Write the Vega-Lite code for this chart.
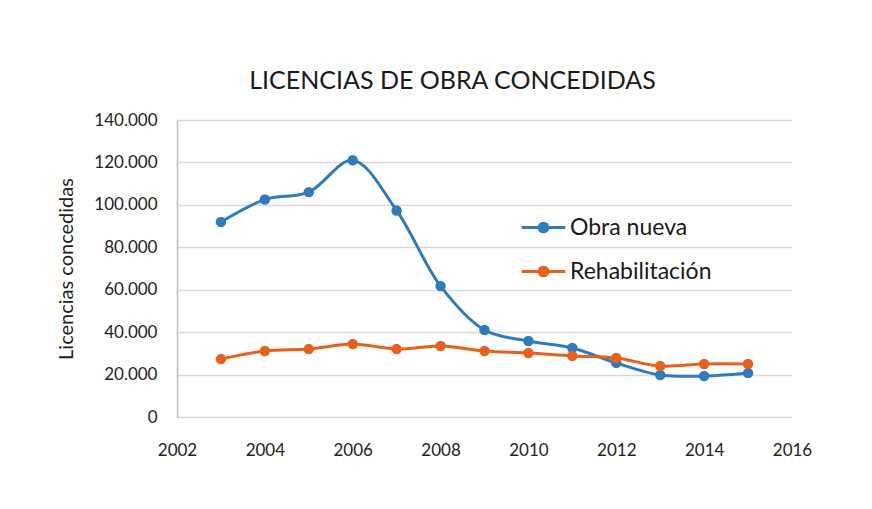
{
  "$schema": "https://vega.github.io/schema/vega-lite/v6.json",
  "autosize": "none",
  "width": 615,
  "height": 297,
  "padding": {"left": 177, "top": 120, "right": 80, "bottom": 92},
  "background": "white",
  "config": {
    "locale": {"number": {"decimal": ",", "thousands": ".", "grouping": [3], "currency": ["", " €"]}},
    "font": "Lato",
    "view": {"stroke": null},
    "axis": {"labelColor": "#222222", "titleColor": "#222222", "labelFont": "Lato", "titleFont": "Lato", "gridColor": "#d9d9d9", "gridWidth": 1.5, "domainColor": "#bfbfbf", "domainWidth": 1.5, "ticks": false}
  },
  "title": {"text": "LICENCIAS DE OBRA CONCEDIDAS", "fontSize": 25, "fontWeight": "normal", "color": "#1a1a1a", "offset": 17, "dx": -32, "font": "Lato"},
  "data": {"values": [
    {"year": 2003, "serie": "Obra nueva", "value": 91900},
    {"year": 2004, "serie": "Obra nueva", "value": 102500},
    {"year": 2005, "serie": "Obra nueva", "value": 106000},
    {"year": 2006, "serie": "Obra nueva", "value": 121000},
    {"year": 2007, "serie": "Obra nueva", "value": 97300},
    {"year": 2008, "serie": "Obra nueva", "value": 61700},
    {"year": 2009, "serie": "Obra nueva", "value": 41000},
    {"year": 2010, "serie": "Obra nueva", "value": 35800},
    {"year": 2011, "serie": "Obra nueva", "value": 32500},
    {"year": 2012, "serie": "Obra nueva", "value": 25500},
    {"year": 2013, "serie": "Obra nueva", "value": 19800},
    {"year": 2014, "serie": "Obra nueva", "value": 19300},
    {"year": 2015, "serie": "Obra nueva", "value": 20700},
    {"year": 2003, "serie": "Rehabilitación", "value": 27300},
    {"year": 2004, "serie": "Rehabilitación", "value": 31100},
    {"year": 2005, "serie": "Rehabilitación", "value": 32000},
    {"year": 2006, "serie": "Rehabilitación", "value": 34400},
    {"year": 2007, "serie": "Rehabilitación", "value": 32000},
    {"year": 2008, "serie": "Rehabilitación", "value": 33500},
    {"year": 2009, "serie": "Rehabilitación", "value": 31100},
    {"year": 2010, "serie": "Rehabilitación", "value": 30200},
    {"year": 2011, "serie": "Rehabilitación", "value": 28800},
    {"year": 2012, "serie": "Rehabilitación", "value": 27800},
    {"year": 2013, "serie": "Rehabilitación", "value": 24000},
    {"year": 2014, "serie": "Rehabilitación", "value": 25000},
    {"year": 2015, "serie": "Rehabilitación", "value": 25000}
  ]},
  "encoding": {
    "x": {"field": "year", "type": "quantitative", "scale": {"domain": [2002, 2016], "nice": false, "zero": false},
      "axis": {"title": null, "values": [2002, 2004, 2006, 2008, 2010, 2012, 2014, 2016], "format": "d", "grid": false, "labelFontSize": 17, "labelPadding": 25, "labelFlush": false, "labelOverlap": false, "domain": false}},
    "y": {"field": "value", "type": "quantitative", "scale": {"domain": [0, 140000], "nice": false},
      "axis": {"title": "Licencias concedidas", "titleFontSize": 20, "titleFontWeight": "normal", "titlePadding": 17, "values": [0, 20000, 40000, 60000, 80000, 100000, 120000, 140000], "format": ",.0f", "labelFontSize": 17, "labelPadding": 20, "labelOverlap": false}},
    "color": {"field": "serie", "type": "nominal", "scale": {"domain": ["Obra nueva", "Rehabilitación"], "range": ["#2e7bbf", "#e8611c"]},
      "legend": {"title": null, "orient": "none", "legendX": 343, "legendY": 84, "labelFontSize": 23, "labelColor": "#1a1a1a", "labelFont": "Lato", "symbolType": "M -1 0 L 1 0 M 0.2 0 A 0.2 0.2 0 1 1 -0.2 0 A 0.2 0.2 0 1 1 0.2 0 Z", "symbolSize": 1900, "symbolStrokeWidth": 3, "rowPadding": 8, "labelOffset": 3}}
  },
  "layer": [
    {"mark": {"type": "line", "interpolate": "catmull-rom", "strokeWidth": 3}},
    {"mark": {"type": "point", "filled": true, "opacity": 1, "size": 110}}
  ]
}
